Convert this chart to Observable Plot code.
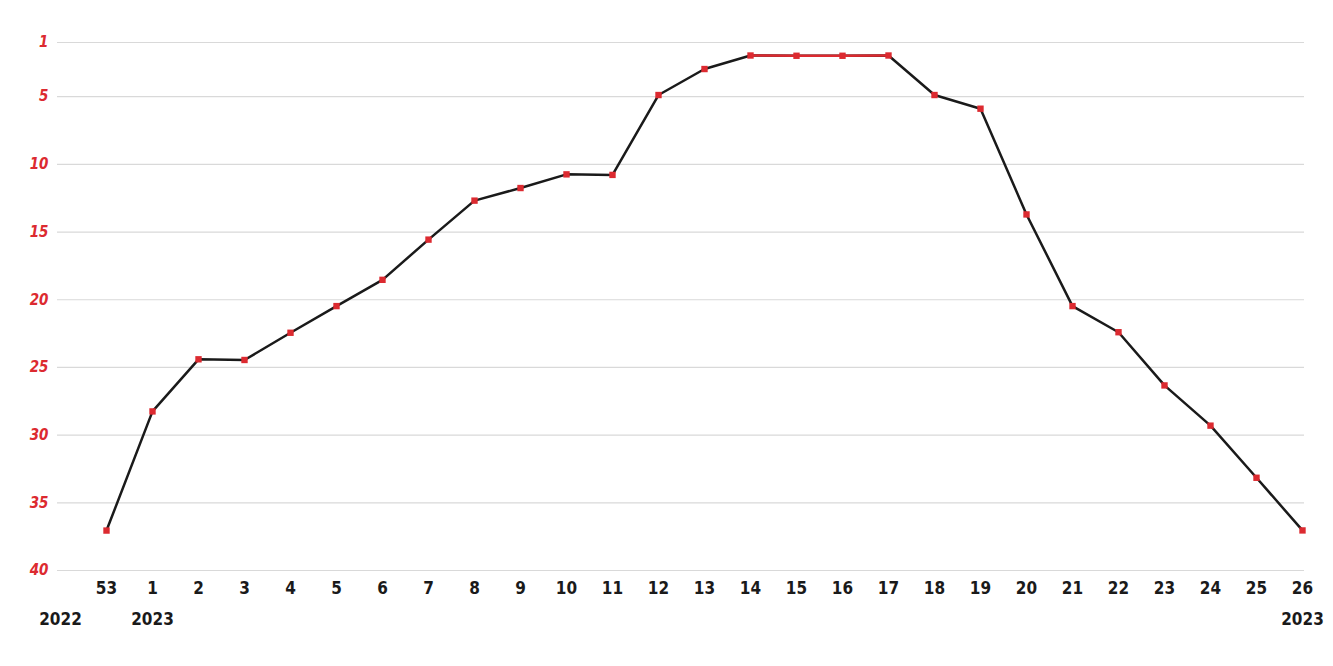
<!DOCTYPE html>
<html>
<head>
<meta charset="utf-8">
<script src="https://cdn.jsdelivr.net/npm/d3@7"></script>
<script src="https://cdn.jsdelivr.net/npm/@observablehq/plot@0.6"></script>
<style>
  body { margin: 0; background: #fff; }
  #chart svg { display: block; }
</style>
</head>
<body>
<div id="chart"></div>
<script>
const weeks = ["53","1","2","3","4","5","6","7","8","9","10","11","12","13","14","15","16","17","18","19","20","21","22","23","24","25","26"];
const ranks = [37.05, 28.25, 24.4, 24.45, 22.44, 20.47, 18.53, 15.56, 12.68, 11.75, 10.74, 10.78, 4.88, 2.96, 1.96, 1.98, 1.98, 1.96, 4.88, 5.89, 13.7, 20.47, 22.4, 26.33, 29.3, 33.15, 37.04];
const highlightWeeks = ["14","15","16","17"];
const yTicks = [1, 5, 10, 15, 20, 25, 30, 35, 40];
const yearLabels = ["2022", "2023", "2023"];
const yearAnchors = ["", "1", "26"];

const data = weeks.map((w, i) => ({week: w, rank: ranks[i]}));
const highlight = data.filter(d => highlightWeeks.includes(d.week));
const years = yearLabels.map((label, i) => ({label, at: yearAnchors[i]}));

const font = '"Liberation Sans Narrow", "DejaVu Sans Condensed", sans-serif';
const red = "#dc2a30";

const chart = Plot.plot({
  width: 1333,
  height: 666,
  marginTop: 42,
  marginBottom: 96,
  marginLeft: 57,
  marginRight: 29,
  style: {fontFamily: font, background: "#fff"},
  x: {type: "point", domain: ["", ...weeks], padding: 0, label: null},
  y: {domain: [1, 40], reverse: true, label: null},
  marks: [
    Plot.gridY(yTicks, {stroke: "#d9d9d9", strokeOpacity: 1, strokeWidth: 1.2}),
    Plot.axisY(yTicks, {tickSize: 0, tickPadding: 9, fontSize: 15, fontWeight: "bold", fontStyle: "italic", fill: red, label: null}),
    Plot.axisX({tickSize: 0, tickPadding: 11, fontSize: 17, fontWeight: "bold", fill: "#1a1a1a", label: null}),
    Plot.line(data, {x: "week", y: "rank", stroke: "#1a1a1a", strokeWidth: 2.5, strokeLinejoin: "round", curve: "linear"}),
    Plot.line(highlight, {x: "week", y: "rank", stroke: red, strokeWidth: 2.5, strokeLinejoin: "round", curve: "linear"}),
    Plot.dot(data, {x: "week", y: "rank", symbol: "square", r: 3.6, fill: red, stroke: null}),
    Plot.text(years, {x: "at", text: "label", frameAnchor: "bottom", dy: 54, fontSize: 17, fontWeight: "bold", fill: "#1a1a1a"})
  ]
});
document.getElementById("chart").append(chart);
</script>
</body>
</html>
